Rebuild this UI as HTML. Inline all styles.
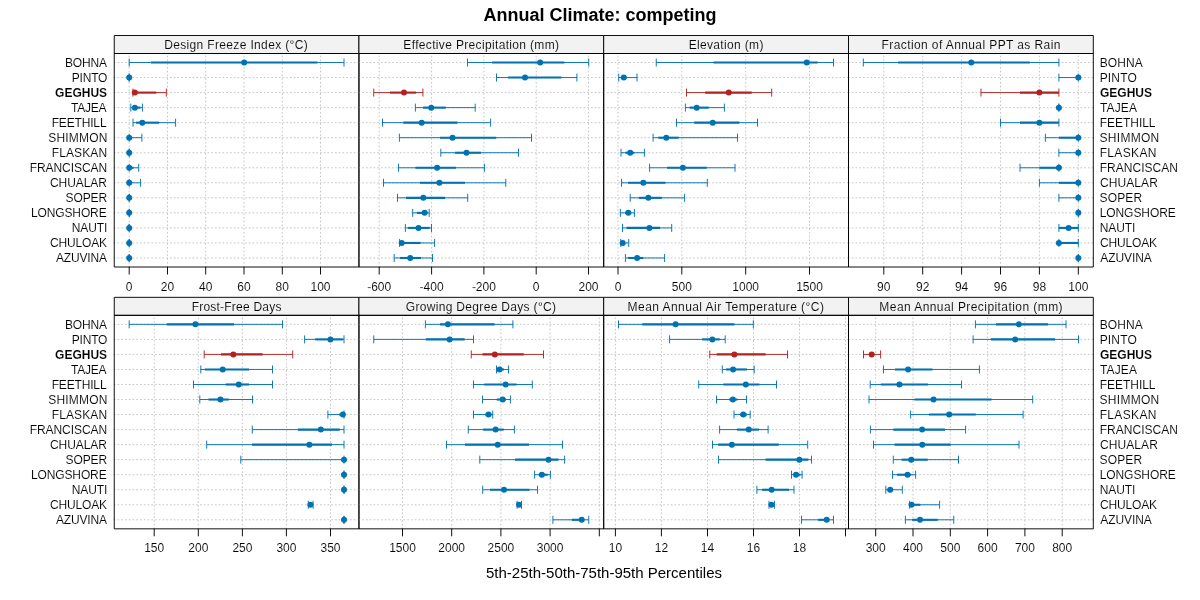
<!DOCTYPE html>
<html lang="en"><head><meta charset="utf-8"><title>Annual Climate: competing</title>
<style>html,body{margin:0;padding:0;background:#fff;}body{width:1200px;height:600px;overflow:hidden;}svg{display:block;}text{font-family:"Liberation Sans",Arial,Helvetica,sans-serif;fill:#000;}.ax,.tk{stroke:#fff;stroke-width:0.1px;}.sx{stroke:#f2f2f2;}.ax{font-size:12px;}.st{font-size:12px;text-anchor:middle;}.tk{font-size:12px;text-anchor:middle;}.g{stroke:#c4c4c4;stroke-width:0.94;stroke-dasharray:0.94 2.81;stroke-linecap:round;fill:none;}.b{stroke:#000;stroke-width:0.94;fill:none;stroke-linejoin:round;}</style></head><body>
<svg width="1200" height="600" viewBox="0 0 1200 600">
<rect x="0" y="0" width="1200" height="600" fill="#fff"/>
<text x="600" y="21" text-anchor="middle" font-size="18" font-weight="bold">Annual Climate: competing</text>
<text x="604" y="578" text-anchor="middle" font-size="15">5th-25th-50th-75th-95th Percentiles</text>
<g>
<rect x="114.25" y="35.5" width="244.7" height="18" fill="#f2f2f2"/>
<path class="g" d="M114.15 62.52H358.95M114.15 77.56H358.95M114.15 92.59H358.95M114.15 107.63H358.95M114.15 122.66H358.95M114.15 137.7H358.95M114.15 152.73H358.95M114.15 167.77H358.95M114.15 182.8H358.95M114.15 197.84H358.95M114.15 212.87H358.95M114.15 227.91H358.95M114.15 242.94H358.95M114.15 257.98H358.95"/>
<path class="g" d="M129.2 267V53.5M167.5 267V53.5M205.7 267V53.5M244 267V53.5M282.3 267V53.5M320.5 267V53.5"/>
<g stroke="#0072b2" fill="#0072b2">
<path stroke-width="0.94" fill="none" d="M129.2 62.52H344M129.2 58.52V66.52M344 58.52V66.52"/>
<path stroke-width="2.1" fill="none" d="M151 62.52H317.3"/>
<circle cx="244.2" cy="62.52" r="3.0" stroke="none"/>
</g>
<g stroke="#0072b2" fill="#0072b2">
<path stroke-width="0.94" fill="none" d="M129.2 77.56H129.2M129.2 73.56V81.56M129.2 73.56V81.56"/>
<circle cx="129.2" cy="77.56" r="3.0" stroke="none"/>
</g>
<g stroke="#b22222" fill="#b22222">
<path stroke-width="0.94" fill="none" d="M132.9 92.59H166.3M132.9 88.59V96.59M166.3 88.59V96.59"/>
<path stroke-width="2.1" fill="none" d="M133 92.59H156.3"/>
<circle cx="134.8" cy="92.59" r="3.0" stroke="none"/>
</g>
<g stroke="#0072b2" fill="#0072b2">
<path stroke-width="0.94" fill="none" d="M130.8 107.63H142.4M130.8 103.63V111.63M142.4 103.63V111.63"/>
<path stroke-width="2.1" fill="none" d="M133 107.63H140.5"/>
<circle cx="134.9" cy="107.63" r="3.0" stroke="none"/>
</g>
<g stroke="#0072b2" fill="#0072b2">
<path stroke-width="0.94" fill="none" d="M133 122.66H175.6M133 118.66V126.66M175.6 118.66V126.66"/>
<path stroke-width="2.1" fill="none" d="M136 122.66H159"/>
<circle cx="142.3" cy="122.66" r="3.0" stroke="none"/>
</g>
<g stroke="#0072b2" fill="#0072b2">
<path stroke-width="0.94" fill="none" d="M129.2 137.7H141.9M129.2 133.7V141.7M141.9 133.7V141.7"/>
<path stroke-width="2.1" fill="none" d="M129.2 137.7H132"/>
<circle cx="129.2" cy="137.7" r="3.0" stroke="none"/>
</g>
<g stroke="#0072b2" fill="#0072b2">
<path stroke-width="0.94" fill="none" d="M129.2 152.73H129.2M129.2 148.73V156.73M129.2 148.73V156.73"/>
<circle cx="129.2" cy="152.73" r="3.0" stroke="none"/>
</g>
<g stroke="#0072b2" fill="#0072b2">
<path stroke-width="0.94" fill="none" d="M129.2 167.77H138.7M129.2 163.77V171.77M138.7 163.77V171.77"/>
<path stroke-width="2.1" fill="none" d="M129.2 167.77H133.5"/>
<circle cx="129.2" cy="167.77" r="3.0" stroke="none"/>
</g>
<g stroke="#0072b2" fill="#0072b2">
<path stroke-width="0.94" fill="none" d="M129.2 182.8H140.6M129.2 178.8V186.8M140.6 178.8V186.8"/>
<path stroke-width="2.1" fill="none" d="M129.2 182.8H130"/>
<circle cx="129.2" cy="182.8" r="3.0" stroke="none"/>
</g>
<g stroke="#0072b2" fill="#0072b2">
<path stroke-width="0.94" fill="none" d="M129.2 197.84H129.2M129.2 193.84V201.84M129.2 193.84V201.84"/>
<circle cx="129.2" cy="197.84" r="3.0" stroke="none"/>
</g>
<g stroke="#0072b2" fill="#0072b2">
<path stroke-width="0.94" fill="none" d="M129.2 212.87H129.2M129.2 208.87V216.87M129.2 208.87V216.87"/>
<circle cx="129.2" cy="212.87" r="3.0" stroke="none"/>
</g>
<g stroke="#0072b2" fill="#0072b2">
<path stroke-width="0.94" fill="none" d="M129.2 227.91H129.2M129.2 223.91V231.91M129.2 223.91V231.91"/>
<circle cx="129.2" cy="227.91" r="3.0" stroke="none"/>
</g>
<g stroke="#0072b2" fill="#0072b2">
<path stroke-width="0.94" fill="none" d="M129.2 242.94H129.2M129.2 238.94V246.94M129.2 238.94V246.94"/>
<circle cx="129.2" cy="242.94" r="3.0" stroke="none"/>
</g>
<g stroke="#0072b2" fill="#0072b2">
<path stroke-width="0.94" fill="none" d="M129.2 257.98H129.2M129.2 253.98V261.98M129.2 253.98V261.98"/>
<circle cx="129.2" cy="257.98" r="3.0" stroke="none"/>
</g>
<path class="b" d="M129.2 267V274.5M167.5 267V274.5M205.7 267V274.5M244 267V274.5M282.3 267V274.5M320.5 267V274.5"/>
<text class="tk" x="129.2" y="290.6">0</text>
<text class="tk" x="167.5" y="290.6">20</text>
<text class="tk" x="205.7" y="290.6">40</text>
<text class="tk" x="244" y="290.6">60</text>
<text class="tk" x="282.3" y="290.6">80</text>
<text class="tk" x="320.5" y="290.6">100</text>
<rect class="b" x="114.25" y="35.5" width="244.7" height="18"/>
<rect class="b" x="114.25" y="53.5" width="244.7" height="213.5"/>
<text class="ax sx" x="164.15" y="48.8" letter-spacing="0.35">Design Freeze Index (°C)</text>
<text class="ax" x="64.89" y="66.92" letter-spacing="-0.14">BOHNA</text>
<text class="ax" x="71.67" y="81.96" letter-spacing="-0.17">PINTO</text>
<text class="ax" x="55.06" y="96.99" letter-spacing="0" font-weight="bold">GEGHUS</text>
<text class="ax" x="70.97" y="112.03" letter-spacing="-0.2">TAJEA</text>
<text class="ax" x="51.67" y="127.06" letter-spacing="-0.16">FEETHILL</text>
<text class="ax" x="48.37" y="142.1" letter-spacing="0.16">SHIMMON</text>
<text class="ax" x="51.67" y="157.13" letter-spacing="0.14">FLASKAN</text>
<text class="ax" x="29.67" y="172.17" letter-spacing="-0.05">FRANCISCAN</text>
<text class="ax" x="49.9" y="187.2" letter-spacing="-0.04">CHUALAR</text>
<text class="ax" x="65.55" y="202.24" letter-spacing="-0.11">SOPER</text>
<text class="ax" x="30.89" y="217.27" letter-spacing="-0.11">LONGSHORE</text>
<text class="ax" x="71.67" y="232.31" letter-spacing="-0.06">NAUTI</text>
<text class="ax" x="49.9" y="247.34" letter-spacing="-0.15">CHULOAK</text>
<text class="ax" x="55.89" y="262.38" letter-spacing="-0.15">AZUVINA</text>
</g>
<g>
<rect x="358.95" y="35.5" width="244.75" height="18" fill="#f2f2f2"/>
<path class="g" d="M358.85 62.52H603.7M358.85 77.56H603.7M358.85 92.59H603.7M358.85 107.63H603.7M358.85 122.66H603.7M358.85 137.7H603.7M358.85 152.73H603.7M358.85 167.77H603.7M358.85 182.8H603.7M358.85 197.84H603.7M358.85 212.87H603.7M358.85 227.91H603.7M358.85 242.94H603.7M358.85 257.98H603.7"/>
<path class="g" d="M379.2 267V53.5M431.6 267V53.5M483.9 267V53.5M536.2 267V53.5M588.5 267V53.5"/>
<g stroke="#0072b2" fill="#0072b2">
<path stroke-width="0.94" fill="none" d="M467.5 62.52H588.75M467.5 58.52V66.52M588.75 58.52V66.52"/>
<path stroke-width="2.1" fill="none" d="M492.1 62.52H564.4"/>
<circle cx="540.2" cy="62.52" r="3.0" stroke="none"/>
</g>
<g stroke="#0072b2" fill="#0072b2">
<path stroke-width="0.94" fill="none" d="M496.5 77.56H576.9M496.5 73.56V81.56M576.9 73.56V81.56"/>
<path stroke-width="2.1" fill="none" d="M508.1 77.56H561.25"/>
<circle cx="525" cy="77.56" r="3.0" stroke="none"/>
</g>
<g stroke="#b22222" fill="#b22222">
<path stroke-width="0.94" fill="none" d="M373.75 92.59H422.9M373.75 88.59V96.59M422.9 88.59V96.59"/>
<path stroke-width="2.1" fill="none" d="M390 92.59H416"/>
<circle cx="404" cy="92.59" r="3.0" stroke="none"/>
</g>
<g stroke="#0072b2" fill="#0072b2">
<path stroke-width="0.94" fill="none" d="M415.4 107.63H475.2M415.4 103.63V111.63M475.2 103.63V111.63"/>
<path stroke-width="2.1" fill="none" d="M423.1 107.63H445.8"/>
<circle cx="431.25" cy="107.63" r="3.0" stroke="none"/>
</g>
<g stroke="#0072b2" fill="#0072b2">
<path stroke-width="0.94" fill="none" d="M382.5 122.66H490.6M382.5 118.66V126.66M490.6 118.66V126.66"/>
<path stroke-width="2.1" fill="none" d="M403.3 122.66H457.5"/>
<circle cx="421.7" cy="122.66" r="3.0" stroke="none"/>
</g>
<g stroke="#0072b2" fill="#0072b2">
<path stroke-width="0.94" fill="none" d="M399.4 137.7H531.5M399.4 133.7V141.7M531.5 133.7V141.7"/>
<path stroke-width="2.1" fill="none" d="M440 137.7H496.25"/>
<circle cx="452.5" cy="137.7" r="3.0" stroke="none"/>
</g>
<g stroke="#0072b2" fill="#0072b2">
<path stroke-width="0.94" fill="none" d="M440.8 152.73H518.5M440.8 148.73V156.73M518.5 148.73V156.73"/>
<path stroke-width="2.1" fill="none" d="M455 152.73H481"/>
<circle cx="466.5" cy="152.73" r="3.0" stroke="none"/>
</g>
<g stroke="#0072b2" fill="#0072b2">
<path stroke-width="0.94" fill="none" d="M398.5 167.77H484.4M398.5 163.77V171.77M484.4 163.77V171.77"/>
<path stroke-width="2.1" fill="none" d="M415.4 167.77H456"/>
<circle cx="437.1" cy="167.77" r="3.0" stroke="none"/>
</g>
<g stroke="#0072b2" fill="#0072b2">
<path stroke-width="0.94" fill="none" d="M383.5 182.8H505.8M383.5 178.8V186.8M505.8 178.8V186.8"/>
<path stroke-width="2.1" fill="none" d="M420 182.8H465"/>
<circle cx="439.4" cy="182.8" r="3.0" stroke="none"/>
</g>
<g stroke="#0072b2" fill="#0072b2">
<path stroke-width="0.94" fill="none" d="M397.5 197.84H467.7M397.5 193.84V201.84M467.7 193.84V201.84"/>
<path stroke-width="2.1" fill="none" d="M406 197.84H445"/>
<circle cx="423.3" cy="197.84" r="3.0" stroke="none"/>
</g>
<g stroke="#0072b2" fill="#0072b2">
<path stroke-width="0.94" fill="none" d="M412.7 212.87H429.2M412.7 208.87V216.87M429.2 208.87V216.87"/>
<path stroke-width="2.1" fill="none" d="M416.9 212.87H427.5"/>
<circle cx="424.6" cy="212.87" r="3.0" stroke="none"/>
</g>
<g stroke="#0072b2" fill="#0072b2">
<path stroke-width="0.94" fill="none" d="M405.4 227.91H431.5M405.4 223.91V231.91M431.5 223.91V231.91"/>
<path stroke-width="2.1" fill="none" d="M408.1 227.91H429.6"/>
<circle cx="418.5" cy="227.91" r="3.0" stroke="none"/>
</g>
<g stroke="#0072b2" fill="#0072b2">
<path stroke-width="0.94" fill="none" d="M399.6 242.94H434.6M399.6 238.94V246.94M434.6 238.94V246.94"/>
<path stroke-width="2.1" fill="none" d="M400.4 242.94H420.6"/>
<circle cx="401.7" cy="242.94" r="3.0" stroke="none"/>
</g>
<g stroke="#0072b2" fill="#0072b2">
<path stroke-width="0.94" fill="none" d="M394.2 257.98H432.5M394.2 253.98V261.98M432.5 253.98V261.98"/>
<path stroke-width="2.1" fill="none" d="M400 257.98H421"/>
<circle cx="410.2" cy="257.98" r="3.0" stroke="none"/>
</g>
<path class="b" d="M379.2 267V274.5M431.6 267V274.5M483.9 267V274.5M536.2 267V274.5M588.5 267V274.5"/>
<text class="tk" x="379.2" y="290.6">-600</text>
<text class="tk" x="431.6" y="290.6">-400</text>
<text class="tk" x="483.9" y="290.6">-200</text>
<text class="tk" x="536.2" y="290.6">0</text>
<text class="tk" x="588.5" y="290.6">200</text>
<rect class="b" x="358.95" y="35.5" width="244.75" height="18"/>
<rect class="b" x="358.95" y="53.5" width="244.75" height="213.5"/>
<text class="ax sx" x="403.36" y="48.8" letter-spacing="0.34">Effective Precipitation (mm)</text>
</g>
<g>
<rect x="603.7" y="35.5" width="244.8" height="18" fill="#f2f2f2"/>
<path class="g" d="M603.6 62.52H848.5M603.6 77.56H848.5M603.6 92.59H848.5M603.6 107.63H848.5M603.6 122.66H848.5M603.6 137.7H848.5M603.6 152.73H848.5M603.6 167.77H848.5M603.6 182.8H848.5M603.6 197.84H848.5M603.6 212.87H848.5M603.6 227.91H848.5M603.6 242.94H848.5M603.6 257.98H848.5"/>
<path class="g" d="M618 267V53.5M681.8 267V53.5M745.7 267V53.5M809.5 267V53.5"/>
<g stroke="#0072b2" fill="#0072b2">
<path stroke-width="0.94" fill="none" d="M656.25 62.52H833.5M656.25 58.52V66.52M833.5 58.52V66.52"/>
<path stroke-width="2.1" fill="none" d="M713.5 62.52H817.7"/>
<circle cx="806.7" cy="62.52" r="3.0" stroke="none"/>
</g>
<g stroke="#0072b2" fill="#0072b2">
<path stroke-width="0.94" fill="none" d="M618.75 77.56H637M618.75 73.56V81.56M637 73.56V81.56"/>
<path stroke-width="2.1" fill="none" d="M620.8 77.56H626.7"/>
<circle cx="623.75" cy="77.56" r="3.0" stroke="none"/>
</g>
<g stroke="#b22222" fill="#b22222">
<path stroke-width="0.94" fill="none" d="M686.5 92.59H771.7M686.5 88.59V96.59M771.7 88.59V96.59"/>
<path stroke-width="2.1" fill="none" d="M705.2 92.59H751.7"/>
<circle cx="728.75" cy="92.59" r="3.0" stroke="none"/>
</g>
<g stroke="#0072b2" fill="#0072b2">
<path stroke-width="0.94" fill="none" d="M685.4 107.63H724.4M685.4 103.63V111.63M724.4 103.63V111.63"/>
<path stroke-width="2.1" fill="none" d="M689.6 107.63H708.75"/>
<circle cx="696.7" cy="107.63" r="3.0" stroke="none"/>
</g>
<g stroke="#0072b2" fill="#0072b2">
<path stroke-width="0.94" fill="none" d="M676.5 122.66H757.5M676.5 118.66V126.66M757.5 118.66V126.66"/>
<path stroke-width="2.1" fill="none" d="M694.2 122.66H739.4"/>
<circle cx="712.7" cy="122.66" r="3.0" stroke="none"/>
</g>
<g stroke="#0072b2" fill="#0072b2">
<path stroke-width="0.94" fill="none" d="M653.1 137.7H737.5M653.1 133.7V141.7M737.5 133.7V141.7"/>
<path stroke-width="2.1" fill="none" d="M658.3 137.7H678.75"/>
<circle cx="666.25" cy="137.7" r="3.0" stroke="none"/>
</g>
<g stroke="#0072b2" fill="#0072b2">
<path stroke-width="0.94" fill="none" d="M621 152.73H644.4M621 148.73V156.73M644.4 148.73V156.73"/>
<path stroke-width="2.1" fill="none" d="M625.4 152.73H634.4"/>
<circle cx="630.2" cy="152.73" r="3.0" stroke="none"/>
</g>
<g stroke="#0072b2" fill="#0072b2">
<path stroke-width="0.94" fill="none" d="M649.6 167.77H735M649.6 163.77V171.77M735 163.77V171.77"/>
<path stroke-width="2.1" fill="none" d="M667 167.77H706.9"/>
<circle cx="682.9" cy="167.77" r="3.0" stroke="none"/>
</g>
<g stroke="#0072b2" fill="#0072b2">
<path stroke-width="0.94" fill="none" d="M621.5 182.8H707.3M621.5 178.8V186.8M707.3 178.8V186.8"/>
<path stroke-width="2.1" fill="none" d="M628.1 182.8H665.6"/>
<circle cx="643.3" cy="182.8" r="3.0" stroke="none"/>
</g>
<g stroke="#0072b2" fill="#0072b2">
<path stroke-width="0.94" fill="none" d="M630.2 197.84H684.6M630.2 193.84V201.84M684.6 193.84V201.84"/>
<path stroke-width="2.1" fill="none" d="M639 197.84H661.9"/>
<circle cx="648.3" cy="197.84" r="3.0" stroke="none"/>
</g>
<g stroke="#0072b2" fill="#0072b2">
<path stroke-width="0.94" fill="none" d="M620.4 212.87H634.4M620.4 208.87V216.87M634.4 208.87V216.87"/>
<path stroke-width="2.1" fill="none" d="M625 212.87H631.25"/>
<circle cx="628.3" cy="212.87" r="3.0" stroke="none"/>
</g>
<g stroke="#0072b2" fill="#0072b2">
<path stroke-width="0.94" fill="none" d="M622.5 227.91H671.7M622.5 223.91V231.91M671.7 223.91V231.91"/>
<path stroke-width="2.1" fill="none" d="M626.7 227.91H660"/>
<circle cx="649.4" cy="227.91" r="3.0" stroke="none"/>
</g>
<g stroke="#0072b2" fill="#0072b2">
<path stroke-width="0.94" fill="none" d="M620.8 242.94H628.75M620.8 238.94V246.94M628.75 238.94V246.94"/>
<path stroke-width="2.1" fill="none" d="M621.7 242.94H625"/>
<circle cx="622.7" cy="242.94" r="3.0" stroke="none"/>
</g>
<g stroke="#0072b2" fill="#0072b2">
<path stroke-width="0.94" fill="none" d="M625.4 257.98H664.6M625.4 253.98V261.98M664.6 253.98V261.98"/>
<path stroke-width="2.1" fill="none" d="M628.1 257.98H643.3"/>
<circle cx="637.1" cy="257.98" r="3.0" stroke="none"/>
</g>
<path class="b" d="M618 267V274.5M681.8 267V274.5M745.7 267V274.5M809.5 267V274.5"/>
<text class="tk" x="618" y="290.6">0</text>
<text class="tk" x="681.8" y="290.6">500</text>
<text class="tk" x="745.7" y="290.6">1000</text>
<text class="tk" x="809.5" y="290.6">1500</text>
<rect class="b" x="603.7" y="35.5" width="244.8" height="18"/>
<rect class="b" x="603.7" y="53.5" width="244.8" height="213.5"/>
<text class="ax sx" x="688.66" y="48.8" letter-spacing="0.34">Elevation (m)</text>
</g>
<g>
<rect x="848.5" y="35.5" width="244.8" height="18" fill="#f2f2f2"/>
<path class="g" d="M848.4 62.52H1093.3M848.4 77.56H1093.3M848.4 92.59H1093.3M848.4 107.63H1093.3M848.4 122.66H1093.3M848.4 137.7H1093.3M848.4 152.73H1093.3M848.4 167.77H1093.3M848.4 182.8H1093.3M848.4 197.84H1093.3M848.4 212.87H1093.3M848.4 227.91H1093.3M848.4 242.94H1093.3M848.4 257.98H1093.3"/>
<path class="g" d="M883.8 267V53.5M922.7 267V53.5M961.6 267V53.5M1000.5 267V53.5M1039.4 267V53.5M1078.3 267V53.5"/>
<g stroke="#0072b2" fill="#0072b2">
<path stroke-width="0.94" fill="none" d="M863.3 62.52H1058.9M863.3 58.52V66.52M1058.9 58.52V66.52"/>
<path stroke-width="2.1" fill="none" d="M898.1 62.52H1029.8"/>
<circle cx="971.25" cy="62.52" r="3.0" stroke="none"/>
</g>
<g stroke="#0072b2" fill="#0072b2">
<path stroke-width="0.94" fill="none" d="M1058.9 77.56H1078.3M1058.9 73.56V81.56M1078.3 73.56V81.56"/>
<circle cx="1078.3" cy="77.56" r="3.0" stroke="none"/>
</g>
<g stroke="#b22222" fill="#b22222">
<path stroke-width="0.94" fill="none" d="M981 92.59H1058.9M981 88.59V96.59M1058.9 88.59V96.59"/>
<path stroke-width="2.1" fill="none" d="M1020 92.59H1058.9"/>
<circle cx="1039.4" cy="92.59" r="3.0" stroke="none"/>
</g>
<g stroke="#0072b2" fill="#0072b2">
<path stroke-width="0.94" fill="none" d="M1058.9 107.63H1058.9M1058.9 103.63V111.63M1058.9 103.63V111.63"/>
<circle cx="1058.9" cy="107.63" r="3.0" stroke="none"/>
</g>
<g stroke="#0072b2" fill="#0072b2">
<path stroke-width="0.94" fill="none" d="M1000.5 122.66H1058.9M1000.5 118.66V126.66M1058.9 118.66V126.66"/>
<path stroke-width="2.1" fill="none" d="M1020 122.66H1058.9"/>
<circle cx="1039.4" cy="122.66" r="3.0" stroke="none"/>
</g>
<g stroke="#0072b2" fill="#0072b2">
<path stroke-width="0.94" fill="none" d="M1045.4 137.7H1078.3M1045.4 133.7V141.7M1078.3 133.7V141.7"/>
<path stroke-width="2.1" fill="none" d="M1058.9 137.7H1078.3"/>
<circle cx="1078.3" cy="137.7" r="3.0" stroke="none"/>
</g>
<g stroke="#0072b2" fill="#0072b2">
<path stroke-width="0.94" fill="none" d="M1058.9 152.73H1078.3M1058.9 148.73V156.73M1078.3 148.73V156.73"/>
<circle cx="1078.3" cy="152.73" r="3.0" stroke="none"/>
</g>
<g stroke="#0072b2" fill="#0072b2">
<path stroke-width="0.94" fill="none" d="M1020 167.77H1058.9M1020 163.77V171.77M1058.9 163.77V171.77"/>
<path stroke-width="2.1" fill="none" d="M1039.4 167.77H1058.9"/>
<circle cx="1058.9" cy="167.77" r="3.0" stroke="none"/>
</g>
<g stroke="#0072b2" fill="#0072b2">
<path stroke-width="0.94" fill="none" d="M1039.4 182.8H1078.3M1039.4 178.8V186.8M1078.3 178.8V186.8"/>
<path stroke-width="2.1" fill="none" d="M1058.9 182.8H1078.3"/>
<circle cx="1078.3" cy="182.8" r="3.0" stroke="none"/>
</g>
<g stroke="#0072b2" fill="#0072b2">
<path stroke-width="0.94" fill="none" d="M1058.9 197.84H1078.3M1058.9 193.84V201.84M1078.3 193.84V201.84"/>
<circle cx="1078.3" cy="197.84" r="3.0" stroke="none"/>
</g>
<g stroke="#0072b2" fill="#0072b2">
<path stroke-width="0.94" fill="none" d="M1078.3 212.87H1078.3M1078.3 208.87V216.87M1078.3 208.87V216.87"/>
<circle cx="1078.3" cy="212.87" r="3.0" stroke="none"/>
</g>
<g stroke="#0072b2" fill="#0072b2">
<path stroke-width="0.94" fill="none" d="M1058.9 227.91H1078.3M1058.9 223.91V231.91M1078.3 223.91V231.91"/>
<path stroke-width="2.1" fill="none" d="M1058.9 227.91H1078.3"/>
<circle cx="1068.6" cy="227.91" r="3.0" stroke="none"/>
</g>
<g stroke="#0072b2" fill="#0072b2">
<path stroke-width="0.94" fill="none" d="M1058.9 242.94H1078.3M1058.9 238.94V246.94M1078.3 238.94V246.94"/>
<path stroke-width="2.1" fill="none" d="M1058.9 242.94H1078.3"/>
<circle cx="1058.9" cy="242.94" r="3.0" stroke="none"/>
</g>
<g stroke="#0072b2" fill="#0072b2">
<path stroke-width="0.94" fill="none" d="M1078.3 257.98H1078.3M1078.3 253.98V261.98M1078.3 253.98V261.98"/>
<circle cx="1078.3" cy="257.98" r="3.0" stroke="none"/>
</g>
<path class="b" d="M883.8 267V274.5M922.7 267V274.5M961.6 267V274.5M1000.5 267V274.5M1039.4 267V274.5M1078.3 267V274.5"/>
<text class="tk" x="883.8" y="290.6">90</text>
<text class="tk" x="922.7" y="290.6">92</text>
<text class="tk" x="961.6" y="290.6">94</text>
<text class="tk" x="1000.5" y="290.6">96</text>
<text class="tk" x="1039.4" y="290.6">98</text>
<text class="tk" x="1078.3" y="290.6">100</text>
<rect class="b" x="848.5" y="35.5" width="244.8" height="18"/>
<rect class="b" x="848.5" y="53.5" width="244.8" height="213.5"/>
<text class="ax sx" x="881.59" y="48.8" letter-spacing="0.4">Fraction of Annual PPT as Rain</text>
<text class="ax" x="1099.67" y="66.92" letter-spacing="0.13">BOHNA</text>
<text class="ax" x="1099.67" y="81.96" letter-spacing="0.18">PINTO</text>
<text class="ax" x="1099.89" y="96.99" letter-spacing="0.03" font-weight="bold">GEGHUS</text>
<text class="ax" x="1099.97" y="112.03" letter-spacing="0.12">TAJEA</text>
<text class="ax" x="1099.67" y="127.06" letter-spacing="-0.02">FEETHILL</text>
<text class="ax" x="1099.55" y="142.1" letter-spacing="0.29">SHIMMON</text>
<text class="ax" x="1099.67" y="157.13" letter-spacing="0.35">FLASKAN</text>
<text class="ax" x="1099.67" y="172.17" letter-spacing="0.03">FRANCISCAN</text>
<text class="ax" x="1099.9" y="187.2" letter-spacing="0.1">CHUALAR</text>
<text class="ax" x="1099.55" y="202.24" letter-spacing="0.14">SOPER</text>
<text class="ax" x="1099.67" y="217.27" letter-spacing="-0.07">LONGSHORE</text>
<text class="ax" x="1099.67" y="232.31" letter-spacing="-0.08">NAUTI</text>
<text class="ax" x="1099.9" y="247.34" letter-spacing="-0.15">CHULOAK</text>
<text class="ax" x="1100.28" y="262.38" letter-spacing="-0.07">AZUVINA</text>
</g>
<g>
<rect x="114.25" y="297.33" width="244.7" height="18" fill="#f2f2f2"/>
<path class="g" d="M114.15 324.35H358.95M114.15 339.39H358.95M114.15 354.42H358.95M114.15 369.46H358.95M114.15 384.49H358.95M114.15 399.53H358.95M114.15 414.56H358.95M114.15 429.6H358.95M114.15 444.63H358.95M114.15 459.67H358.95M114.15 474.7H358.95M114.15 489.74H358.95M114.15 504.77H358.95M114.15 519.81H358.95"/>
<path class="g" d="M154.2 528.83V315.33M198.3 528.83V315.33M242.4 528.83V315.33M286.4 528.83V315.33M330.5 528.83V315.33"/>
<g stroke="#0072b2" fill="#0072b2">
<path stroke-width="0.94" fill="none" d="M129.2 324.35H282.5M129.2 320.35V328.35M282.5 320.35V328.35"/>
<path stroke-width="2.1" fill="none" d="M166.7 324.35H234"/>
<circle cx="195.4" cy="324.35" r="3.0" stroke="none"/>
</g>
<g stroke="#0072b2" fill="#0072b2">
<path stroke-width="0.94" fill="none" d="M304.6 339.39H344M304.6 335.39V343.39M344 335.39V343.39"/>
<path stroke-width="2.1" fill="none" d="M315.2 339.39H342.9"/>
<circle cx="330.4" cy="339.39" r="3.0" stroke="none"/>
</g>
<g stroke="#b22222" fill="#b22222">
<path stroke-width="0.94" fill="none" d="M204.2 354.42H292.7M204.2 350.42V358.42M292.7 350.42V358.42"/>
<path stroke-width="2.1" fill="none" d="M221 354.42H262.7"/>
<circle cx="233.3" cy="354.42" r="3.0" stroke="none"/>
</g>
<g stroke="#0072b2" fill="#0072b2">
<path stroke-width="0.94" fill="none" d="M200.8 369.46H272.5M200.8 365.46V373.46M272.5 365.46V373.46"/>
<path stroke-width="2.1" fill="none" d="M204.8 369.46H249"/>
<circle cx="222.7" cy="369.46" r="3.0" stroke="none"/>
</g>
<g stroke="#0072b2" fill="#0072b2">
<path stroke-width="0.94" fill="none" d="M193.5 384.49H272.5M193.5 380.49V388.49M272.5 380.49V388.49"/>
<path stroke-width="2.1" fill="none" d="M225.6 384.49H249"/>
<circle cx="238.75" cy="384.49" r="3.0" stroke="none"/>
</g>
<g stroke="#0072b2" fill="#0072b2">
<path stroke-width="0.94" fill="none" d="M199.8 399.53H252.5M199.8 395.53V403.53M252.5 395.53V403.53"/>
<path stroke-width="2.1" fill="none" d="M208.5 399.53H228.75"/>
<circle cx="220.4" cy="399.53" r="3.0" stroke="none"/>
</g>
<g stroke="#0072b2" fill="#0072b2">
<path stroke-width="0.94" fill="none" d="M327.9 414.56H344M327.9 410.56V418.56M344 410.56V418.56"/>
<path stroke-width="2.1" fill="none" d="M339.2 414.56H344"/>
<circle cx="342.9" cy="414.56" r="3.0" stroke="none"/>
</g>
<g stroke="#0072b2" fill="#0072b2">
<path stroke-width="0.94" fill="none" d="M252.3 429.6H344M252.3 425.6V433.6M344 425.6V433.6"/>
<path stroke-width="2.1" fill="none" d="M297.9 429.6H339.8"/>
<circle cx="320.8" cy="429.6" r="3.0" stroke="none"/>
</g>
<g stroke="#0072b2" fill="#0072b2">
<path stroke-width="0.94" fill="none" d="M206.7 444.63H344M206.7 440.63V448.63M344 440.63V448.63"/>
<path stroke-width="2.1" fill="none" d="M252.1 444.63H331.9"/>
<circle cx="309.4" cy="444.63" r="3.0" stroke="none"/>
</g>
<g stroke="#0072b2" fill="#0072b2">
<path stroke-width="0.94" fill="none" d="M240.8 459.67H344M240.8 455.67V463.67M344 455.67V463.67"/>
<circle cx="344" cy="459.67" r="3.0" stroke="none"/>
</g>
<g stroke="#0072b2" fill="#0072b2">
<path stroke-width="0.94" fill="none" d="M344 474.7H344M344 470.7V478.7M344 470.7V478.7"/>
<circle cx="344" cy="474.7" r="3.0" stroke="none"/>
</g>
<g stroke="#0072b2" fill="#0072b2">
<path stroke-width="0.94" fill="none" d="M344 489.74H344M344 485.74V493.74M344 485.74V493.74"/>
<circle cx="344" cy="489.74" r="3.0" stroke="none"/>
</g>
<g stroke="#0072b2" fill="#0072b2">
<path stroke-width="0.94" fill="none" d="M308.3 504.77H313.1M308.3 500.77V508.77M313.1 500.77V508.77"/>
<path stroke-width="2.1" fill="none" d="M309.5 504.77H311.8"/>
<circle cx="310.4" cy="504.77" r="3.0" stroke="none"/>
</g>
<g stroke="#0072b2" fill="#0072b2">
<path stroke-width="0.94" fill="none" d="M344 519.81H344M344 515.81V523.81M344 515.81V523.81"/>
<circle cx="344" cy="519.81" r="3.0" stroke="none"/>
</g>
<path class="b" d="M154.2 528.83V536.33M198.3 528.83V536.33M242.4 528.83V536.33M286.4 528.83V536.33M330.5 528.83V536.33"/>
<text class="tk" x="154.2" y="552.43">150</text>
<text class="tk" x="198.3" y="552.43">200</text>
<text class="tk" x="242.4" y="552.43">250</text>
<text class="tk" x="286.4" y="552.43">300</text>
<text class="tk" x="330.5" y="552.43">350</text>
<rect class="b" x="114.25" y="297.33" width="244.7" height="18"/>
<rect class="b" x="114.25" y="315.33" width="244.7" height="213.5"/>
<text class="ax sx" x="191.65" y="310.63" letter-spacing="0.22">Frost-Free Days</text>
<text class="ax" x="64.89" y="328.75" letter-spacing="-0.14">BOHNA</text>
<text class="ax" x="71.67" y="343.79" letter-spacing="-0.17">PINTO</text>
<text class="ax" x="55.06" y="358.82" letter-spacing="0" font-weight="bold">GEGHUS</text>
<text class="ax" x="70.97" y="373.86" letter-spacing="-0.2">TAJEA</text>
<text class="ax" x="51.67" y="388.89" letter-spacing="-0.16">FEETHILL</text>
<text class="ax" x="48.37" y="403.93" letter-spacing="0.16">SHIMMON</text>
<text class="ax" x="51.67" y="418.96" letter-spacing="0.14">FLASKAN</text>
<text class="ax" x="29.67" y="434" letter-spacing="-0.05">FRANCISCAN</text>
<text class="ax" x="49.9" y="449.03" letter-spacing="-0.04">CHUALAR</text>
<text class="ax" x="65.55" y="464.07" letter-spacing="-0.11">SOPER</text>
<text class="ax" x="30.89" y="479.1" letter-spacing="-0.11">LONGSHORE</text>
<text class="ax" x="71.67" y="494.14" letter-spacing="-0.06">NAUTI</text>
<text class="ax" x="49.9" y="509.17" letter-spacing="-0.15">CHULOAK</text>
<text class="ax" x="55.89" y="524.21" letter-spacing="-0.15">AZUVINA</text>
</g>
<g>
<rect x="358.95" y="297.33" width="244.75" height="18" fill="#f2f2f2"/>
<path class="g" d="M358.85 324.35H603.7M358.85 339.39H603.7M358.85 354.42H603.7M358.85 369.46H603.7M358.85 384.49H603.7M358.85 399.53H603.7M358.85 414.56H603.7M358.85 429.6H603.7M358.85 444.63H603.7M358.85 459.67H603.7M358.85 474.7H603.7M358.85 489.74H603.7M358.85 504.77H603.7M358.85 519.81H603.7"/>
<path class="g" d="M402.5 528.83V315.33M451.7 528.83V315.33M500.9 528.83V315.33M550.1 528.83V315.33M599.3 528.83V315.33"/>
<g stroke="#0072b2" fill="#0072b2">
<path stroke-width="0.94" fill="none" d="M425.4 324.35H512.9M425.4 320.35V328.35M512.9 320.35V328.35"/>
<path stroke-width="2.1" fill="none" d="M440 324.35H494.6"/>
<circle cx="447.9" cy="324.35" r="3.0" stroke="none"/>
</g>
<g stroke="#0072b2" fill="#0072b2">
<path stroke-width="0.94" fill="none" d="M373.75 339.39H473.5M373.75 335.39V343.39M473.5 335.39V343.39"/>
<path stroke-width="2.1" fill="none" d="M425.8 339.39H464.6"/>
<circle cx="449.6" cy="339.39" r="3.0" stroke="none"/>
</g>
<g stroke="#b22222" fill="#b22222">
<path stroke-width="0.94" fill="none" d="M471.25 354.42H543.5M471.25 350.42V358.42M543.5 350.42V358.42"/>
<path stroke-width="2.1" fill="none" d="M482.5 354.42H523.75"/>
<circle cx="494.8" cy="354.42" r="3.0" stroke="none"/>
</g>
<g stroke="#0072b2" fill="#0072b2">
<path stroke-width="0.94" fill="none" d="M496.5 369.46H508.5M496.5 365.46V373.46M508.5 365.46V373.46"/>
<path stroke-width="2.1" fill="none" d="M497.3 369.46H504"/>
<circle cx="499.6" cy="369.46" r="3.0" stroke="none"/>
</g>
<g stroke="#0072b2" fill="#0072b2">
<path stroke-width="0.94" fill="none" d="M473.5 384.49H532.3M473.5 380.49V388.49M532.3 380.49V388.49"/>
<path stroke-width="2.1" fill="none" d="M484.2 384.49H516.5"/>
<circle cx="505.6" cy="384.49" r="3.0" stroke="none"/>
</g>
<g stroke="#0072b2" fill="#0072b2">
<path stroke-width="0.94" fill="none" d="M482.5 399.53H510.4M482.5 395.53V403.53M510.4 395.53V403.53"/>
<path stroke-width="2.1" fill="none" d="M496.7 399.53H506"/>
<circle cx="502.7" cy="399.53" r="3.0" stroke="none"/>
</g>
<g stroke="#0072b2" fill="#0072b2">
<path stroke-width="0.94" fill="none" d="M473.5 414.56H492.7M473.5 410.56V418.56M492.7 410.56V418.56"/>
<path stroke-width="2.1" fill="none" d="M485.2 414.56H491.5"/>
<circle cx="488.5" cy="414.56" r="3.0" stroke="none"/>
</g>
<g stroke="#0072b2" fill="#0072b2">
<path stroke-width="0.94" fill="none" d="M468.3 429.6H514.4M468.3 425.6V433.6M514.4 425.6V433.6"/>
<path stroke-width="2.1" fill="none" d="M483.1 429.6H503.75"/>
<circle cx="495.6" cy="429.6" r="3.0" stroke="none"/>
</g>
<g stroke="#0072b2" fill="#0072b2">
<path stroke-width="0.94" fill="none" d="M446.5 444.63H562.5M446.5 440.63V448.63M562.5 440.63V448.63"/>
<path stroke-width="2.1" fill="none" d="M465 444.63H529"/>
<circle cx="497.7" cy="444.63" r="3.0" stroke="none"/>
</g>
<g stroke="#0072b2" fill="#0072b2">
<path stroke-width="0.94" fill="none" d="M479.8 459.67H564.6M479.8 455.67V463.67M564.6 455.67V463.67"/>
<path stroke-width="2.1" fill="none" d="M515 459.67H558.5"/>
<circle cx="548.5" cy="459.67" r="3.0" stroke="none"/>
</g>
<g stroke="#0072b2" fill="#0072b2">
<path stroke-width="0.94" fill="none" d="M534.6 474.7H550.4M534.6 470.7V478.7M550.4 470.7V478.7"/>
<path stroke-width="2.1" fill="none" d="M538.75 474.7H547.7"/>
<circle cx="541.9" cy="474.7" r="3.0" stroke="none"/>
</g>
<g stroke="#0072b2" fill="#0072b2">
<path stroke-width="0.94" fill="none" d="M482.7 489.74H537.5M482.7 485.74V493.74M537.5 485.74V493.74"/>
<path stroke-width="2.1" fill="none" d="M490 489.74H529.6"/>
<circle cx="504" cy="489.74" r="3.0" stroke="none"/>
</g>
<g stroke="#0072b2" fill="#0072b2">
<path stroke-width="0.94" fill="none" d="M517.1 504.77H521.5M517.1 500.77V508.77M521.5 500.77V508.77"/>
<path stroke-width="2.1" fill="none" d="M518 504.77H520.3"/>
<circle cx="519" cy="504.77" r="3.0" stroke="none"/>
</g>
<g stroke="#0072b2" fill="#0072b2">
<path stroke-width="0.94" fill="none" d="M552.9 519.81H588.75M552.9 515.81V523.81M588.75 515.81V523.81"/>
<path stroke-width="2.1" fill="none" d="M571.7 519.81H584.2"/>
<circle cx="581.7" cy="519.81" r="3.0" stroke="none"/>
</g>
<path class="b" d="M402.5 528.83V536.33M451.7 528.83V536.33M500.9 528.83V536.33M550.1 528.83V536.33M599.3 528.83V536.33"/>
<text class="tk" x="402.5" y="552.43">1500</text>
<text class="tk" x="451.7" y="552.43">2000</text>
<text class="tk" x="500.9" y="552.43">2500</text>
<text class="tk" x="550.1" y="552.43">3000</text>
<rect class="b" x="358.95" y="297.33" width="244.75" height="18"/>
<rect class="b" x="358.95" y="315.33" width="244.75" height="213.5"/>
<text class="ax sx" x="405.81" y="310.63" letter-spacing="0.32">Growing Degree Days (°C)</text>
</g>
<g>
<rect x="603.7" y="297.33" width="244.8" height="18" fill="#f2f2f2"/>
<path class="g" d="M603.6 324.35H848.5M603.6 339.39H848.5M603.6 354.42H848.5M603.6 369.46H848.5M603.6 384.49H848.5M603.6 399.53H848.5M603.6 414.56H848.5M603.6 429.6H848.5M603.6 444.63H848.5M603.6 459.67H848.5M603.6 474.7H848.5M603.6 489.74H848.5M603.6 504.77H848.5M603.6 519.81H848.5"/>
<path class="g" d="M615.4 528.83V315.33M661.4 528.83V315.33M707.5 528.83V315.33M753.5 528.83V315.33M799.5 528.83V315.33M845.5 528.83V315.33"/>
<g stroke="#0072b2" fill="#0072b2">
<path stroke-width="0.94" fill="none" d="M618.5 324.35H753.3M618.5 320.35V328.35M753.3 320.35V328.35"/>
<path stroke-width="2.1" fill="none" d="M642.3 324.35H734.4"/>
<circle cx="675.6" cy="324.35" r="3.0" stroke="none"/>
</g>
<g stroke="#0072b2" fill="#0072b2">
<path stroke-width="0.94" fill="none" d="M669.6 339.39H725.2M669.6 335.39V343.39M725.2 335.39V343.39"/>
<path stroke-width="2.1" fill="none" d="M702.1 339.39H719.8"/>
<circle cx="712.3" cy="339.39" r="3.0" stroke="none"/>
</g>
<g stroke="#b22222" fill="#b22222">
<path stroke-width="0.94" fill="none" d="M709.8 354.42H787.5M709.8 350.42V358.42M787.5 350.42V358.42"/>
<path stroke-width="2.1" fill="none" d="M716.7 354.42H765.6"/>
<circle cx="734.4" cy="354.42" r="3.0" stroke="none"/>
</g>
<g stroke="#0072b2" fill="#0072b2">
<path stroke-width="0.94" fill="none" d="M722.3 369.46H754.2M722.3 365.46V373.46M754.2 365.46V373.46"/>
<path stroke-width="2.1" fill="none" d="M726 369.46H746.9"/>
<circle cx="733.1" cy="369.46" r="3.0" stroke="none"/>
</g>
<g stroke="#0072b2" fill="#0072b2">
<path stroke-width="0.94" fill="none" d="M698.75 384.49H776.5M698.75 380.49V388.49M776.5 380.49V388.49"/>
<path stroke-width="2.1" fill="none" d="M723.3 384.49H759.4"/>
<circle cx="745.8" cy="384.49" r="3.0" stroke="none"/>
</g>
<g stroke="#0072b2" fill="#0072b2">
<path stroke-width="0.94" fill="none" d="M716.5 399.53H746.5M716.5 395.53V403.53M746.5 395.53V403.53"/>
<path stroke-width="2.1" fill="none" d="M729.2 399.53H737.5"/>
<circle cx="732.9" cy="399.53" r="3.0" stroke="none"/>
</g>
<g stroke="#0072b2" fill="#0072b2">
<path stroke-width="0.94" fill="none" d="M734 414.56H750.2M734 410.56V418.56M750.2 410.56V418.56"/>
<path stroke-width="2.1" fill="none" d="M740 414.56H746.9"/>
<circle cx="743.3" cy="414.56" r="3.0" stroke="none"/>
</g>
<g stroke="#0072b2" fill="#0072b2">
<path stroke-width="0.94" fill="none" d="M719.6 429.6H768.1M719.6 425.6V433.6M768.1 425.6V433.6"/>
<path stroke-width="2.1" fill="none" d="M736.9 429.6H759"/>
<circle cx="748.75" cy="429.6" r="3.0" stroke="none"/>
</g>
<g stroke="#0072b2" fill="#0072b2">
<path stroke-width="0.94" fill="none" d="M712.5 444.63H807.7M712.5 440.63V448.63M807.7 440.63V448.63"/>
<path stroke-width="2.1" fill="none" d="M718.1 444.63H778.75"/>
<circle cx="731.9" cy="444.63" r="3.0" stroke="none"/>
</g>
<g stroke="#0072b2" fill="#0072b2">
<path stroke-width="0.94" fill="none" d="M718.5 459.67H811.5M718.5 455.67V463.67M811.5 455.67V463.67"/>
<path stroke-width="2.1" fill="none" d="M765.6 459.67H808.3"/>
<circle cx="799.4" cy="459.67" r="3.0" stroke="none"/>
</g>
<g stroke="#0072b2" fill="#0072b2">
<path stroke-width="0.94" fill="none" d="M791.5 474.7H802.1M791.5 470.7V478.7M802.1 470.7V478.7"/>
<path stroke-width="2.1" fill="none" d="M793.75 474.7H800.4"/>
<circle cx="796" cy="474.7" r="3.0" stroke="none"/>
</g>
<g stroke="#0072b2" fill="#0072b2">
<path stroke-width="0.94" fill="none" d="M756.9 489.74H794M756.9 485.74V493.74M794 485.74V493.74"/>
<path stroke-width="2.1" fill="none" d="M762.1 489.74H789"/>
<circle cx="771.7" cy="489.74" r="3.0" stroke="none"/>
</g>
<g stroke="#0072b2" fill="#0072b2">
<path stroke-width="0.94" fill="none" d="M769 504.77H774.6M769 500.77V508.77M774.6 500.77V508.77"/>
<path stroke-width="2.1" fill="none" d="M770.3 504.77H773"/>
<circle cx="771.5" cy="504.77" r="3.0" stroke="none"/>
</g>
<g stroke="#0072b2" fill="#0072b2">
<path stroke-width="0.94" fill="none" d="M801.5 519.81H833.5M801.5 515.81V523.81M833.5 515.81V523.81"/>
<path stroke-width="2.1" fill="none" d="M818.1 519.81H829.2"/>
<circle cx="826.7" cy="519.81" r="3.0" stroke="none"/>
</g>
<path class="b" d="M615.4 528.83V536.33M661.4 528.83V536.33M707.5 528.83V536.33M753.5 528.83V536.33M799.5 528.83V536.33M845.5 528.83V536.33"/>
<text class="tk" x="615.4" y="552.43">10</text>
<text class="tk" x="661.4" y="552.43">12</text>
<text class="tk" x="707.5" y="552.43">14</text>
<text class="tk" x="753.5" y="552.43">16</text>
<text class="tk" x="799.5" y="552.43">18</text>
<rect class="b" x="603.7" y="297.33" width="244.8" height="18"/>
<rect class="b" x="603.7" y="315.33" width="244.8" height="213.5"/>
<text class="ax sx" x="627.59" y="310.63" letter-spacing="0.44">Mean Annual Air Temperature (°C)</text>
</g>
<g>
<rect x="848.5" y="297.33" width="244.8" height="18" fill="#f2f2f2"/>
<path class="g" d="M848.4 324.35H1093.3M848.4 339.39H1093.3M848.4 354.42H1093.3M848.4 369.46H1093.3M848.4 384.49H1093.3M848.4 399.53H1093.3M848.4 414.56H1093.3M848.4 429.6H1093.3M848.4 444.63H1093.3M848.4 459.67H1093.3M848.4 474.7H1093.3M848.4 489.74H1093.3M848.4 504.77H1093.3M848.4 519.81H1093.3"/>
<path class="g" d="M875.7 528.83V315.33M913 528.83V315.33M950.3 528.83V315.33M987.6 528.83V315.33M1024.9 528.83V315.33M1062.2 528.83V315.33"/>
<g stroke="#0072b2" fill="#0072b2">
<path stroke-width="0.94" fill="none" d="M975.4 324.35H1066M975.4 320.35V328.35M1066 320.35V328.35"/>
<path stroke-width="2.1" fill="none" d="M996 324.35H1048.1"/>
<circle cx="1018.75" cy="324.35" r="3.0" stroke="none"/>
</g>
<g stroke="#0072b2" fill="#0072b2">
<path stroke-width="0.94" fill="none" d="M973.1 339.39H1078.5M973.1 335.39V343.39M1078.5 335.39V343.39"/>
<path stroke-width="2.1" fill="none" d="M990.8 339.39H1055"/>
<circle cx="1015.2" cy="339.39" r="3.0" stroke="none"/>
</g>
<g stroke="#b22222" fill="#b22222">
<path stroke-width="0.94" fill="none" d="M863.5 354.42H880.6M863.5 350.42V358.42M880.6 350.42V358.42"/>
<path stroke-width="2.1" fill="none" d="M869.6 354.42H874.2"/>
<circle cx="871.7" cy="354.42" r="3.0" stroke="none"/>
</g>
<g stroke="#0072b2" fill="#0072b2">
<path stroke-width="0.94" fill="none" d="M883.5 369.46H979.4M883.5 365.46V373.46M979.4 365.46V373.46"/>
<path stroke-width="2.1" fill="none" d="M895 369.46H932.5"/>
<circle cx="908.1" cy="369.46" r="3.0" stroke="none"/>
</g>
<g stroke="#0072b2" fill="#0072b2">
<path stroke-width="0.94" fill="none" d="M870.2 384.49H961.5M870.2 380.49V388.49M961.5 380.49V388.49"/>
<path stroke-width="2.1" fill="none" d="M880.8 384.49H927.9"/>
<circle cx="899.4" cy="384.49" r="3.0" stroke="none"/>
</g>
<g stroke="#0072b2" fill="#0072b2">
<path stroke-width="0.94" fill="none" d="M869 399.53H1032.7M869 395.53V403.53M1032.7 395.53V403.53"/>
<path stroke-width="2.1" fill="none" d="M914.4 399.53H991.5"/>
<circle cx="933.5" cy="399.53" r="3.0" stroke="none"/>
</g>
<g stroke="#0072b2" fill="#0072b2">
<path stroke-width="0.94" fill="none" d="M910.6 414.56H1023.1M910.6 410.56V418.56M1023.1 410.56V418.56"/>
<path stroke-width="2.1" fill="none" d="M929 414.56H975.8"/>
<circle cx="949.2" cy="414.56" r="3.0" stroke="none"/>
</g>
<g stroke="#0072b2" fill="#0072b2">
<path stroke-width="0.94" fill="none" d="M870.4 429.6H965.6M870.4 425.6V433.6M965.6 425.6V433.6"/>
<path stroke-width="2.1" fill="none" d="M893.3 429.6H945"/>
<circle cx="922.1" cy="429.6" r="3.0" stroke="none"/>
</g>
<g stroke="#0072b2" fill="#0072b2">
<path stroke-width="0.94" fill="none" d="M873.5 444.63H1019M873.5 440.63V448.63M1019 440.63V448.63"/>
<path stroke-width="2.1" fill="none" d="M894.6 444.63H950.6"/>
<circle cx="922.3" cy="444.63" r="3.0" stroke="none"/>
</g>
<g stroke="#0072b2" fill="#0072b2">
<path stroke-width="0.94" fill="none" d="M893.3 459.67H958.5M893.3 455.67V463.67M958.5 455.67V463.67"/>
<path stroke-width="2.1" fill="none" d="M901.7 459.67H927.7"/>
<circle cx="911.25" cy="459.67" r="3.0" stroke="none"/>
</g>
<g stroke="#0072b2" fill="#0072b2">
<path stroke-width="0.94" fill="none" d="M892.5 474.7H915.6M892.5 470.7V478.7M915.6 470.7V478.7"/>
<path stroke-width="2.1" fill="none" d="M897.1 474.7H911.25"/>
<circle cx="907.5" cy="474.7" r="3.0" stroke="none"/>
</g>
<g stroke="#0072b2" fill="#0072b2">
<path stroke-width="0.94" fill="none" d="M885.8 489.74H902.3M885.8 485.74V493.74M902.3 485.74V493.74"/>
<path stroke-width="2.1" fill="none" d="M887.7 489.74H892.9"/>
<circle cx="890.2" cy="489.74" r="3.0" stroke="none"/>
</g>
<g stroke="#0072b2" fill="#0072b2">
<path stroke-width="0.94" fill="none" d="M909.6 504.77H939.6M909.6 500.77V508.77M939.6 500.77V508.77"/>
<path stroke-width="2.1" fill="none" d="M910.5 504.77H920.4"/>
<circle cx="911.5" cy="504.77" r="3.0" stroke="none"/>
</g>
<g stroke="#0072b2" fill="#0072b2">
<path stroke-width="0.94" fill="none" d="M905.4 519.81H953.75M905.4 515.81V523.81M953.75 515.81V523.81"/>
<path stroke-width="2.1" fill="none" d="M912.1 519.81H937.7"/>
<circle cx="920" cy="519.81" r="3.0" stroke="none"/>
</g>
<path class="b" d="M875.7 528.83V536.33M913 528.83V536.33M950.3 528.83V536.33M987.6 528.83V536.33M1024.9 528.83V536.33M1062.2 528.83V536.33"/>
<text class="tk" x="875.7" y="552.43">300</text>
<text class="tk" x="913" y="552.43">400</text>
<text class="tk" x="950.3" y="552.43">500</text>
<text class="tk" x="987.6" y="552.43">600</text>
<text class="tk" x="1024.9" y="552.43">700</text>
<text class="tk" x="1062.2" y="552.43">800</text>
<rect class="b" x="848.5" y="297.33" width="244.8" height="18"/>
<rect class="b" x="848.5" y="315.33" width="244.8" height="213.5"/>
<text class="ax sx" x="879.36" y="310.63" letter-spacing="0.43">Mean Annual Precipitation (mm)</text>
<text class="ax" x="1099.67" y="328.75" letter-spacing="0.13">BOHNA</text>
<text class="ax" x="1099.67" y="343.79" letter-spacing="0.18">PINTO</text>
<text class="ax" x="1099.89" y="358.82" letter-spacing="0.03" font-weight="bold">GEGHUS</text>
<text class="ax" x="1099.97" y="373.86" letter-spacing="0.12">TAJEA</text>
<text class="ax" x="1099.67" y="388.89" letter-spacing="-0.02">FEETHILL</text>
<text class="ax" x="1099.55" y="403.93" letter-spacing="0.29">SHIMMON</text>
<text class="ax" x="1099.67" y="418.96" letter-spacing="0.35">FLASKAN</text>
<text class="ax" x="1099.67" y="434" letter-spacing="0.03">FRANCISCAN</text>
<text class="ax" x="1099.9" y="449.03" letter-spacing="0.1">CHUALAR</text>
<text class="ax" x="1099.55" y="464.07" letter-spacing="0.14">SOPER</text>
<text class="ax" x="1099.67" y="479.1" letter-spacing="-0.07">LONGSHORE</text>
<text class="ax" x="1099.67" y="494.14" letter-spacing="-0.08">NAUTI</text>
<text class="ax" x="1099.9" y="509.17" letter-spacing="-0.15">CHULOAK</text>
<text class="ax" x="1100.28" y="524.21" letter-spacing="-0.07">AZUVINA</text>
</g>
</svg></body></html>
